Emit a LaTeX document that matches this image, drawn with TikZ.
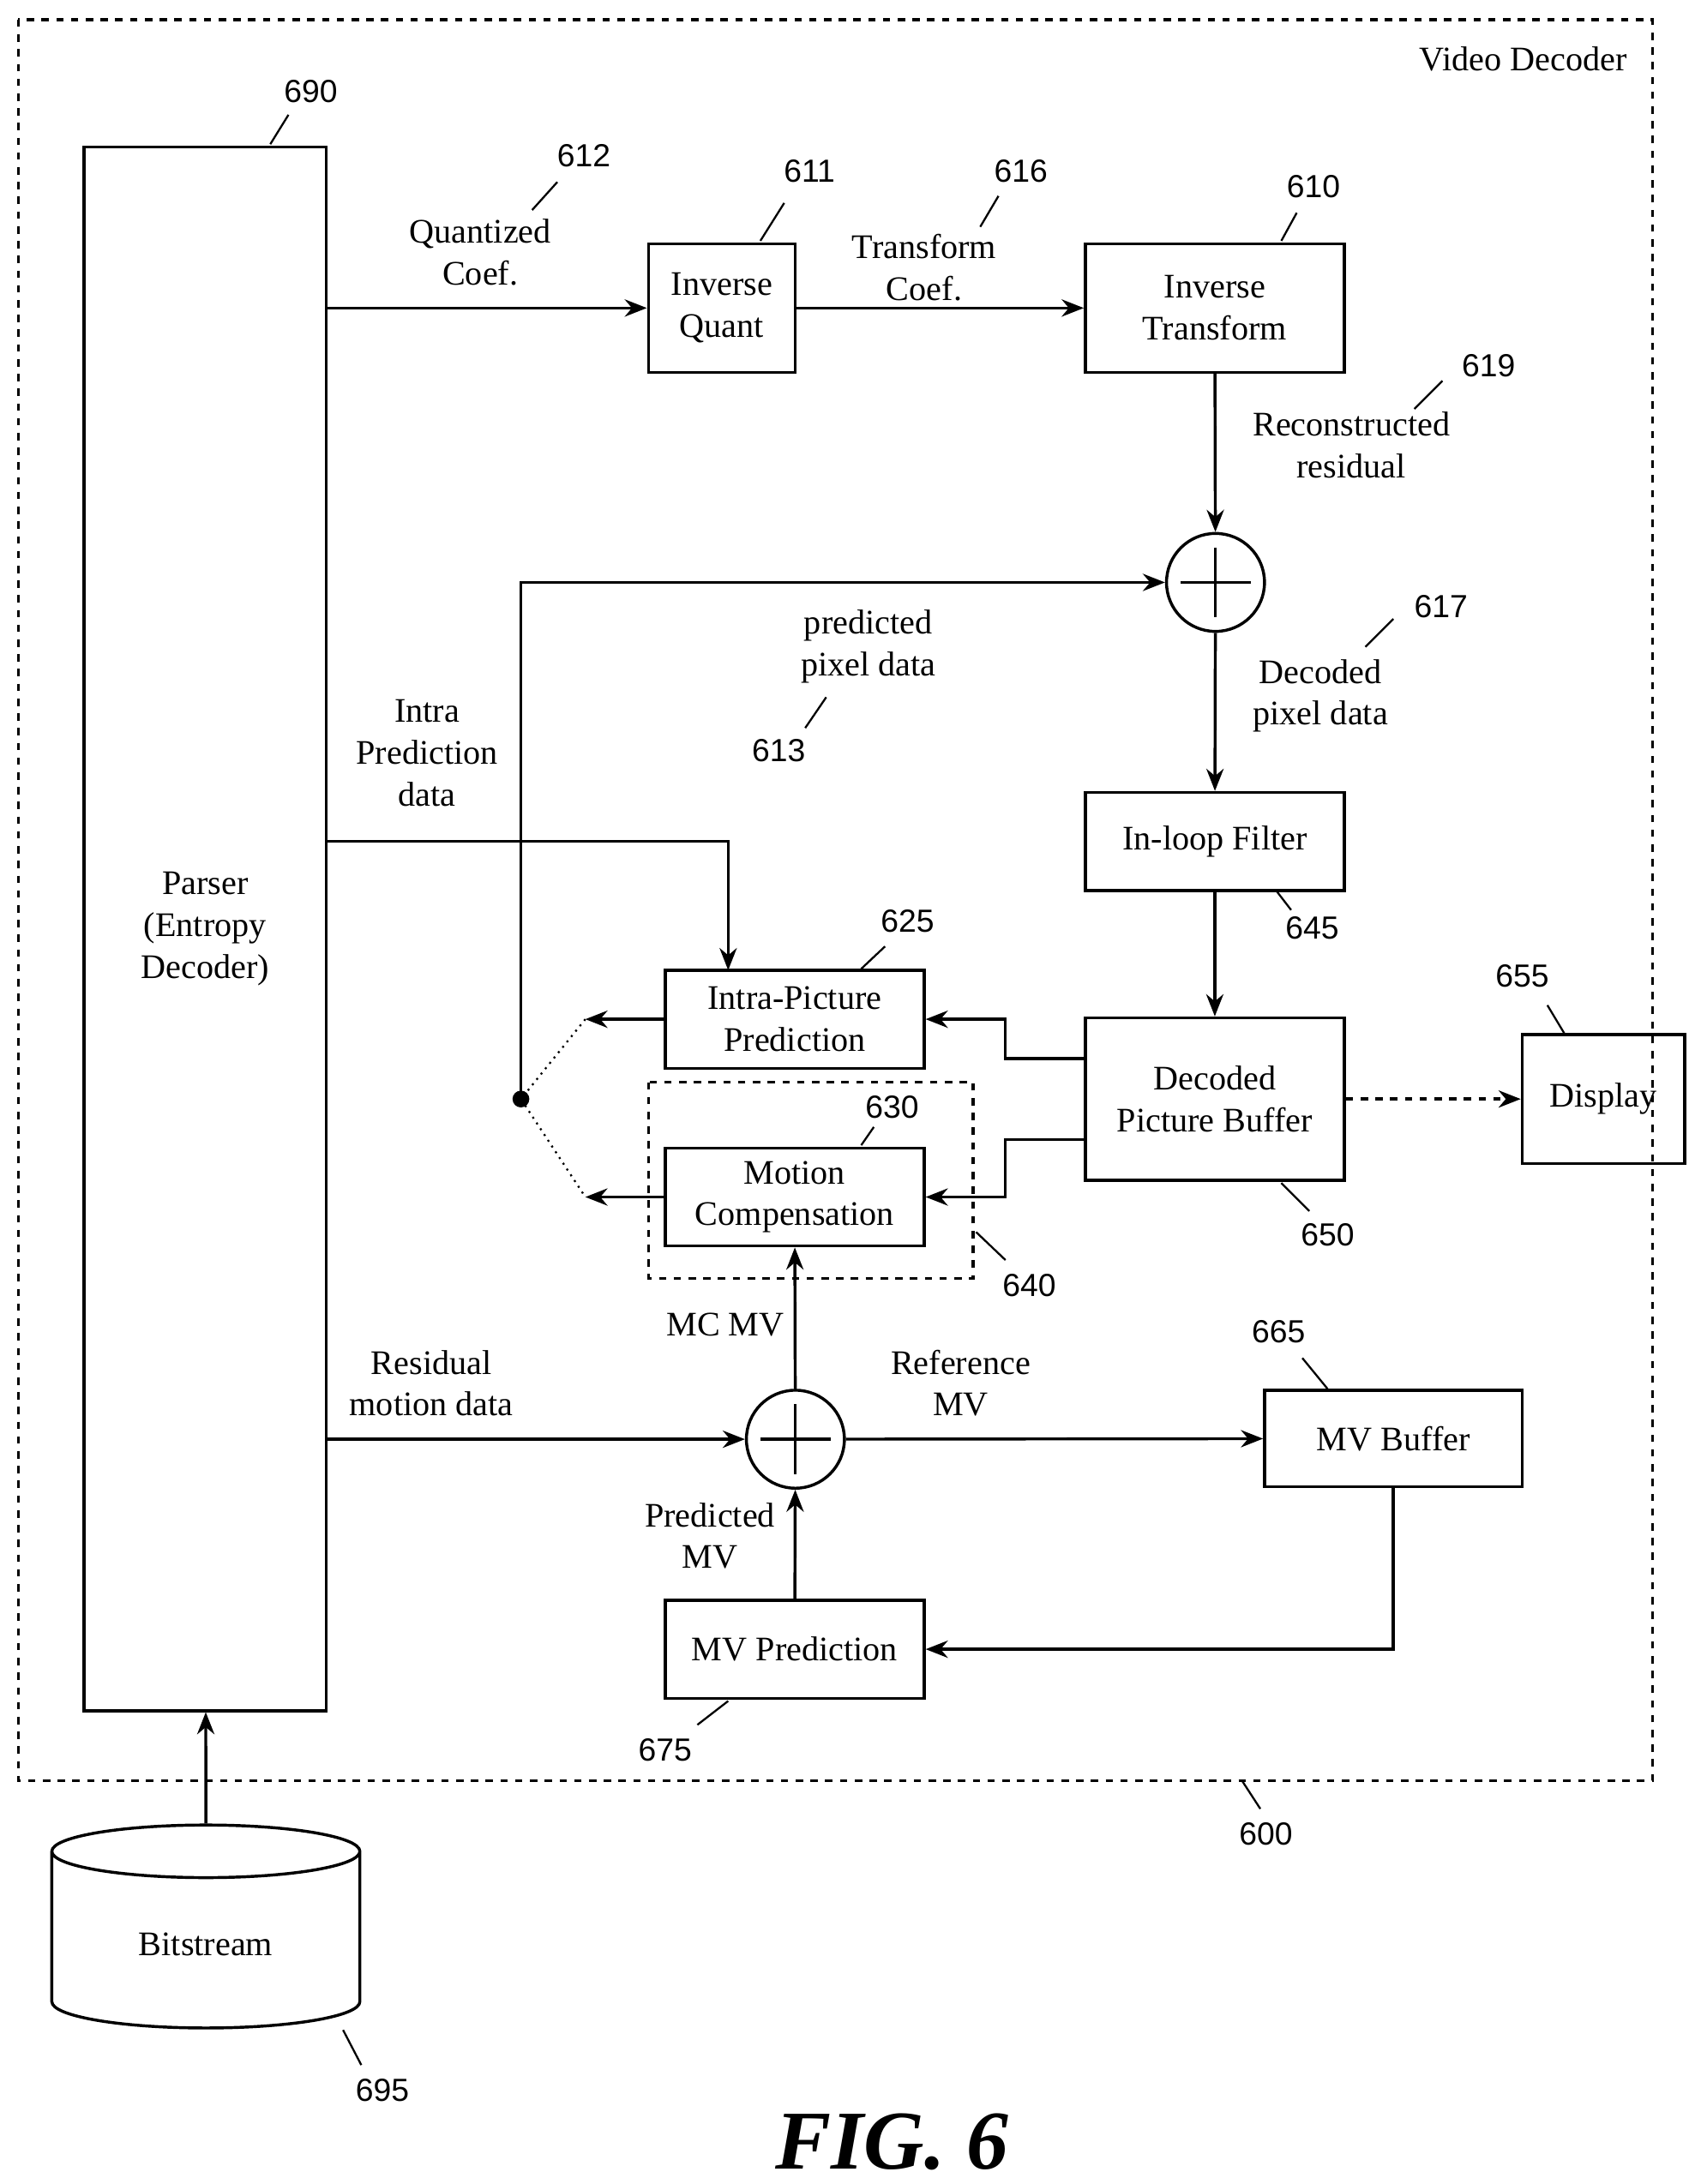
\documentclass[tikz,border=0pt]{standalone}
\usepackage{fontspec}
\setmainfont{Liberation Serif}
\newfontfamily\numfont{Liberation Sans}
\usetikzlibrary{shapes.geometric, arrows.meta, positioning, calc}

\begin{document}
\begin{tikzpicture}[
    x=0.02cm, y=-0.02cm,
    font=\fontsize{14}{17}\selectfont,
    block/.style={draw, very thick, align=center, inner sep=0pt},
    sumnode/.style={draw, very thick, circle, minimum size=1.4cm,
        path picture={\draw[very thick] ([yshift=0.5cm]path picture bounding box.center) -- ([yshift=-0.5cm]path picture bounding box.center)
            ([xshift=-0.5cm]path picture bounding box.center) -- ([xshift=0.5cm]path picture bounding box.center);}},
    flow/.style={very thick, -{Stealth[length=9pt,width=7pt]}},
    lbl/.style={align=center},
    num/.style={font=\numfont\fontsize{13}{15}\selectfont},
    lead/.style={thick}
]
    \useasboundingbox (0,0) rectangle (1210,1560);
    % Frame
    \draw[very thick, dashed] (13,14) rectangle (1180,1272);
    \node[anchor=east] (title) at (1168,42) {Video Decoder};

    % Blocks
    \node[block, minimum width=3.46cm, minimum height=22.34cm] (parser) at (146.5,663.5) {Parser\\(Entropy\\Decoder)};
    \node[block, minimum width=2.1cm, minimum height=1.84cm] (iq) at (515.5,220) {Inverse\\Quant};
    \node[block, minimum width=3.7cm, minimum height=1.84cm] (it) at (867.5,220) {Inverse\\Transform};
    \node[sumnode] (sum) at (868,416) {};
    \node[block, minimum width=3.7cm, minimum height=1.4cm] (ilf) at (867.5,601) {In-loop Filter};
    \node[block, minimum width=3.7cm, minimum height=2.32cm] (dpb) at (867.5,785) {Decoded\\Picture Buffer};
    \node[block, minimum width=2.32cm, minimum height=1.84cm] (disp) at (1145,785) {Display};
    \node[block, minimum width=3.7cm, minimum height=1.4cm] (ipp) at (567.5,728) {Intra-Picture\\Prediction};
    \node[block, minimum width=3.7cm, minimum height=1.4cm] (mc) at (567.5,855) {Motion\\Compensation};
    \draw[very thick, dashed] (463,773) rectangle (695,913);
    \node[sumnode] (sumv) at (568,1028) {};
    \node[block, minimum width=3.68cm, minimum height=1.38cm] (mvb) at (995,1027.5) {MV Buffer};
    \node[block, minimum width=3.7cm, minimum height=1.4cm] (mvp) at (567.5,1178) {MV Prediction};
    \node[draw, very thick, cylinder, shape border rotate=90, aspect=0.35,
        minimum width=4.4cm, minimum height=2.9cm] (bits) at (147,1389) {Bitstream};
    \fill (372,785) circle (6) coordinate (junc);

    % Connections
    \draw[flow] (parser.east |- iq) -- (iq);
    \draw[flow] (iq) -- (it);
    \draw[flow] (it) -- (sum);
    \draw[flow] (junc) -- (372,416) -- (sum);
    \draw[flow] (sum) -- (ilf);
    \draw[flow] (ilf) -- (dpb);
    \draw[flow, dashed] (dpb) -- (disp);
    \draw[flow] (dpb.west |- 0,756) -- (718,756) |- (ipp);
    \draw[flow] (dpb.west |- 0,814) -- (718,814) |- (mc);
    \draw[flow] (ipp) -- (418,728) coordinate (ippout);
    \draw[flow] (mc) -- (418,855) coordinate (mcout);
    \draw[thick, dotted] (ippout) -- (junc) -- (mcout);
    \draw[flow] (parser.east |- 0,601) -- (520,601) -- (520,693);
    \draw[flow] (parser.east |- sumv) -- (sumv);
    \draw[flow] (sumv) -- (mc);
    \draw[flow] (sumv) -- (mvb);
    \draw[flow] (mvb) |- (mvp);
    \draw[flow] (mvp) -- (sumv);
    \draw[flow] (bits.top) -- (parser);

    % Labels
    \node[lbl] (qc) at (343,180) {Quantized\\Coef.};
    \node[lbl] (tc) at (660,191) {Transform\\Coef.};
    \node[lbl] (rr) at (965,318) {Reconstructed\\residual};
    \node[lbl] (ppd) at (620,462) {predicted\\pixel data};
    \node[lbl] (dpd) at (943,497) {Decoded\\pixel data};
    \node[lbl] (ipd) at (305,538) {Intra\\Prediction\\data};
    \node[lbl] (rmd) at (308,988) {Residual\\motion data};
    \node[lbl] (mcmv) at (518,946) {MC MV};
    \node[lbl] (rmv) at (686,988) {Reference\\MV};
    \node[lbl] (pmv) at (507,1097) {Predicted\\MV};
    \node[font=\bfseries\itshape\fontsize{34}{38}\selectfont] (fig) at (637,1530) {FIG. 6};

    % Reference numerals
    \node[num] (n690) at (222,65) {690};  \draw[lead] (193,103) -- (206,82);
    \node[num] (n612) at (417,111) {612}; \draw[lead] (380,150) -- (398,130);
    \node[num] (n611) at (578,122) {611}; \draw[lead] (543,172) -- (560,145);
    \node[num] (n616) at (729,122) {616}; \draw[lead] (700,162) -- (713,140);
    \node[num] (n610) at (938,133) {610}; \draw[lead] (915,172) -- (926,152);
    \node[num] (n619) at (1063,261) {619}; \draw[lead] (1010,292) -- (1030,272);
    \node[num] (n617) at (1029,433) {617}; \draw[lead] (975,462) -- (995,442);
    \node[num] (n613) at (556,536) {613}; \draw[lead] (575,520) -- (590,498);
    \node[num] (n645) at (937,663) {645}; \draw[lead] (912,637) -- (922,650);
    \node[num] (n625) at (648,658) {625}; \draw[lead] (615,692) -- (632,676);
    \node[num] (n655) at (1087,697) {655}; \draw[lead] (1105,718) -- (1117,738);
    \node[num] (n630) at (637,791) {630}; \draw[lead] (615,818) -- (624,805);
    \node[num] (n650) at (948,882) {650}; \draw[lead] (915,845) -- (935,865);
    \node[num] (n640) at (735,918) {640}; \draw[lead] (697,880) -- (718,900);
    \node[num] (n665) at (913,951) {665}; \draw[lead] (930,970) -- (948,992);
    \node[num] (n675) at (475,1250) {675}; \draw[lead] (498,1232) -- (520,1215);
    \node[num] (n600) at (904,1310) {600}; \draw[lead] (887,1272) -- (900,1292);
    \node[num] (n695) at (273,1493) {695}; \draw[lead] (245,1450) -- (258,1475);
\end{tikzpicture}
\end{document}
